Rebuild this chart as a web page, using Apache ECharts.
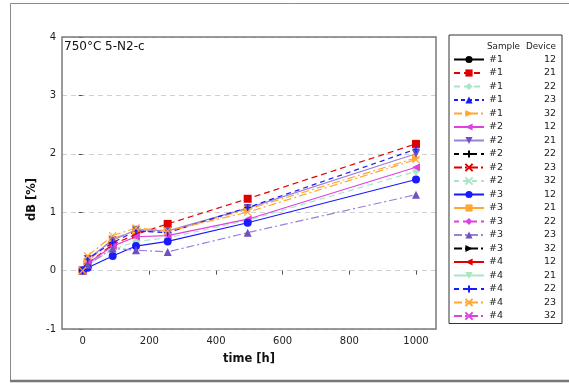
<!DOCTYPE html>
<html><head><meta charset="utf-8">
<script src="https://cdn.jsdelivr.net/npm/echarts@6/dist/echarts.min.js"></script>
<style>html,body{margin:0;padding:0;background:#fff}#c{width:569px;height:383px}</style>
</head><body><div id="c"></div>
<script>
// ---- data ----
const times = [0, 15, 90, 160, 255, 495, 1000];
const samples = ['#1','#1','#1','#1','#1','#2','#2','#2','#2','#2','#3','#3','#3','#3','#3','#4','#4','#4','#4','#4'];
const devices = ['12','21','22','23','32','12','21','22','23','32','12','21','22','23','32','12','21','22','23','32'];
const xTicks = [0, 200, 400, 600, 800, 1000];
const yTicks = [-1, 0, 1, 2, 3, 4];
// dB [%] per series (empty = no visible points)
const s1_12 = [];
const s1_21 = [0.0, 0.12, 0.45, 0.62, 0.80, 1.23, 2.17];
const s1_22 = [0.0, 0.10, 0.36, 0.50, 0.56, 0.86, 1.70];
const s1_23 = [];
const s1_32 = [0.0, 0.15, 0.55, 0.68, 0.66, 1.05, 1.93];
const s2_12 = [0.0, 0.12, 0.42, 0.58, 0.60, 0.88, 1.77];
const s2_21 = [0.0, 0.20, 0.52, 0.70, 0.68, 1.07, 2.00];
const s2_22 = [];
const s2_23 = [];
const s2_32 = [];
const s3_12 = [0.0, 0.05, 0.25, 0.42, 0.50, 0.82, 1.56];
const s3_21 = [];
const s3_22 = [];
const s3_23 = [0.0, 0.10, 0.38, 0.35, 0.32, 0.65, 1.30];
const s3_32 = [];
const s4_12 = [];
const s4_21 = [];
const s4_22 = [0.0, 0.20, 0.48, 0.68, 0.65, 1.08, 2.08];
const s4_23 = [0.0, 0.25, 0.60, 0.73, 0.68, 1.00, 1.90];
const s4_32 = [];
const values = [s1_12,s1_21,s1_22,s1_23,s1_32,s2_12,s2_21,s2_22,s2_23,s2_32,s3_12,s3_21,s3_22,s3_23,s3_32,s4_12,s4_21,s4_22,s4_23,s4_32];

// ---- styles ----
const PLUS = 'path://M0,5L10,5M5,0L5,10';
const CROSS = 'path://M0,0L10,10M10,0L0,10';
const styles = [
  {c:'#000000', t:'solid', s:'circle', r:0},
  {c:'#e00000', t:[6,4], s:'rect', r:0},
  {c:'#a8e6c4', t:[6,4], s:'diamond', r:0},
  {c:'#1a1aff', t:[4,3], s:'triangle', r:0},
  {c:'#ffa733', t:[8,3,2,3], s:'triangle', r:-90},
  {c:'#e040e0', t:'solid', s:'triangle', r:90},
  {c:'#9a80d8', t:'solid', s:'triangle', r:180, m:'#7050c0'},
  {c:'#000000', t:[5,4], s:PLUS, r:0, st:true},
  {c:'#e00000', t:[8,3,2,3], s:CROSS, r:0, st:true},
  {c:'#a8e6c4', t:[5,4], s:CROSS, r:0, st:true},
  {c:'#1a1aff', t:'solid', s:'circle', r:0},
  {c:'#ffa733', t:'solid', s:'rect', r:0},
  {c:'#e040e0', t:[5,4], s:'diamond', r:0},
  {c:'#9a80d8', t:[8,3,2,3], s:'triangle', r:0, m:'#7050c0'},
  {c:'#000000', t:[8,3,2,3], s:'triangle', r:-90},
  {c:'#e00000', t:'solid', s:'triangle', r:90},
  {c:'#a8e6c4', t:'solid', s:'triangle', r:180},
  {c:'#1a1aff', t:[5,4], s:PLUS, r:0, st:true},
  {c:'#ffa733', t:[8,3,2,3], s:CROSS, r:0, st:true},
  {c:'#e040e0', t:[8,3,2,3], s:CROSS, r:0, st:true}
];

const FONT = 'DejaVu Sans';
const series = values.map((v, i) => {
  const st = styles[i];
  const mc = st.m || st.c;
  return {
    name: samples[i] + '_' + devices[i],
    type: 'line',
    data: v.map((y, k) => [times[k], y]),
    symbol: st.s,
    symbolRotate: st.r,
    symbolSize: st.st ? 7 : 8,
    showSymbol: true,
    lineStyle: {color: st.c, width: 1.2, type: st.t},
    itemStyle: st.st ? {color: mc, borderColor: mc, borderWidth: 1.2} : {color: mc, borderWidth: 0},
    emphasis: {disabled: true},
    animation: false,
    z: 3
  };
});

const chart = echarts.init(document.getElementById('c'), null, {renderer: 'canvas'});
const G = {left: 62, top: 37, right: 133, bottom: 54};
chart.setOption({
  animation: false,
  textStyle: {fontFamily: FONT},
  grid: {left: G.left, top: G.top, right: G.right, bottom: G.bottom, containLabel: false},
  xAxis: {
    type: 'value', min: -62, max: 1060,
    axisLine: {show: false},
    axisTick: {show: true, length: 4, customValues: xTicks, lineStyle: {color: '#555'}},
    axisLabel: {customValues: xTicks, formatter: v => String(v), color: '#222', fontSize: 10, fontFamily: FONT, margin: 7},
    splitLine: {show: false},
    name: 'time [h]', nameLocation: 'middle', nameGap: 24,
    nameTextStyle: {fontWeight: 'bold', fontSize: 11.5, color: '#111', fontFamily: FONT}
  },
  yAxis: {
    type: 'value', min: yTicks[0], max: yTicks[yTicks.length - 1], interval: 1,
    axisLine: {show: false},
    axisTick: {show: true, length: 4, lineStyle: {color: '#555'}},
    axisLabel: {formatter: v => String(v), color: '#222', fontSize: 10, fontFamily: FONT, margin: 6},
    splitLine: {show: true, lineStyle: {color: '#d0d0d0', type: [5, 4], width: 1}}
  },
  legend: {
    orient: 'vertical',
    left: 449, top: 35,
    padding: [19, 6, 2, 4],
    borderColor: '#333', borderWidth: 1,
    itemWidth: 30, itemHeight: 9, itemGap: 2.5,
    textStyle: {
      fontFamily: FONT, fontSize: 9.5, color: '#222', lineHeight: 11,
      rich: {a: {width: 40, fontSize: 9.5, fontFamily: FONT, color: '#222'}, b: {width: 27, align: 'right', fontSize: 9.5, fontFamily: FONT, color: '#222'}}
    },
    itemTextGap: 6,
    selectedMode: false,
    formatter: n => { const p = n.split('_'); return '{a|' + p[0] + '}{b|' + p[1] + '}'; },
    data: series.map(s => s.name)
  },
  graphic: [
    {type: 'rect', z: 100, silent: true, shape: {x: G.left, y: G.top, width: 569 - G.left - G.right, height: 383 - G.top - G.bottom}, style: {fill: null, stroke: '#7a7a7a', lineWidth: 1.5}},
    {type: 'rect', z: 100, silent: true, shape: {x: 10.5, y: 3.5, width: 600, height: 377}, style: {fill: null, stroke: '#8a8a8a', lineWidth: 1}},
    {type: 'line', z: 100, silent: true, shape: {x1: 10, y1: 381, x2: 569, y2: 381}, style: {stroke: '#777', lineWidth: 2.5}},
    {type: 'text', z: 100, left: 64, top: 41, style: {text: '750°C 5-N2-c', fontSize: 12, fontFamily: FONT, fill: '#111'}},
    {type: 'text', z: 100, left: 487, top: 42, style: {text: 'Sample', fontSize: 8.8, fontFamily: FONT, fill: '#222'}},
    {type: 'text', z: 100, right: 13, top: 42, style: {text: 'Device', fontSize: 8.8, fontFamily: FONT, fill: '#222'}},
    {type: 'text', z: 100, left: 26, top: 178, rotation: Math.PI / 2, style: {text: 'dB [%]', fontSize: 11.5, fontWeight: 'bold', fontFamily: FONT, fill: '#111'}}
  ],
  series: series
});
</script></body></html>
